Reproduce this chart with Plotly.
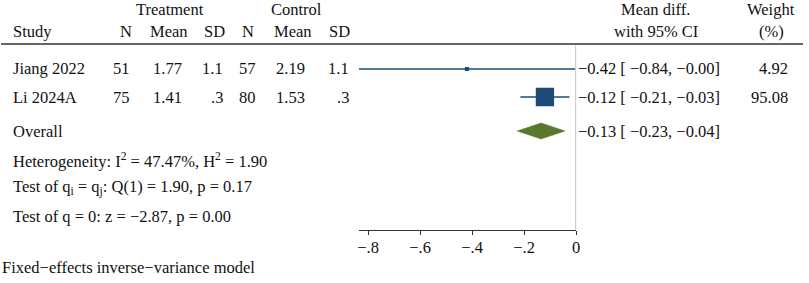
import plotly.graph_objects as go

# ---------------- data ----------------
studies = ["Jiang 2022", "Li 2024A"]
n_t = [51, 75]
mean_t = ["1.77", "1.41"]
sd_t = ["1.1", ".3"]
n_c = [57, 80]
mean_c = ["2.19", "1.53"]
sd_c = ["1.1", ".3"]
effect = [-0.42, -0.12]
ci_lo = [-0.836, -0.2145]
ci_hi = [-0.004, -0.0255]
weight = [4.92, 95.08]
overall = -0.1348
overall_lo = -0.2269
overall_hi = -0.0426
tick_vals = [-0.8, -0.6, -0.4, -0.2, 0]
tick_text = ["\u2212.8", "\u2212.6", "\u2212.4", "\u2212.2", "0"]
het_lines = [
    "Heterogeneity: I<sup>2</sup> = 47.47%, H<sup>2</sup> = 1.90",
    "Test of q<sub>i</sub> = q<sub>j</sub>: Q(1) = 1.90, p = 0.17",
    "Test of q = 0: z = \u22122.87, p = 0.00",
]
footnote = "Fixed\u2212effects inverse\u2212variance model"

# ---------------- layout constants ----------------
W, H = 809, 283
FONT = "Liberation Serif"
FS = 16.5
TXT = "#111111"
BLUE = "#1d4a78"
GREEN = "#58792b"
row_y = [69, 97]
overall_y = 131
het_y = [160, 188, 216]
foot_y = 267
axis_y = 230
head_line_y = 44
x_left, x_right = 360.0, 578.7
xmin, xmax = -0.836, 0.0


def py(p):
    return 1 - p / H


def fmt(v):
    s = f"{v:.2f}"
    if s.startswith("-"):
        s = "\u2212" + s[1:]
    return s


fig = go.Figure()

# CI lines
for i in range(len(studies)):
    fig.add_trace(go.Scatter(x=[ci_lo[i], ci_hi[i]], y=[row_y[i], row_y[i]],
                             mode="lines", line=dict(color=BLUE, width=1.3),
                             showlegend=False, hoverinfo="skip"))
# squares sized by weight
wmax = max(weight)
sizes = [18.3 * (w / wmax) ** 0.5 for w in weight]
fig.add_trace(go.Scatter(x=effect, y=row_y, mode="markers",
                         marker=dict(symbol="square", size=sizes, color=BLUE,
                                     opacity=1, line=dict(width=0)),
                         showlegend=False, hoverinfo="skip"))
# diamond
fig.add_trace(go.Scatter(x=[overall_lo, overall, overall_hi, overall, overall_lo],
                         y=[overall_y, overall_y - 8, overall_y, overall_y + 8, overall_y],
                         mode="lines", fill="toself", fillcolor=GREEN,
                         line=dict(color=GREEN, width=0.5),
                         showlegend=False, hoverinfo="skip"))

shapes = [
    dict(type="line", xref="paper", yref="paper", x0=0, x1=807 / W,
         y0=py(head_line_y), y1=py(head_line_y), line=dict(color="#333333", width=1.5)),
    dict(type="line", xref="x", yref="y", x0=0, x1=0, y0=head_line_y + 1, y1=axis_y,
         line=dict(color="#a0a0a0", width=1.3)),
]

ann = []


def add(text, x, y, anchor="left"):
    ann.append(dict(text=text, x=x / W, y=py(y), xref="paper", yref="paper",
                    xanchor=anchor, yanchor="middle", showarrow=False,
                    borderpad=0, borderwidth=0,
                    font=dict(family=FONT, size=FS, color=TXT)))


# headers
add("Treatment", 170.5, 9, "center")
add("Control", 297, 9, "center")
add("Study", 12, 31)
for txt, xc in zip(["N", "Mean", "SD", "N", "Mean", "SD"],
                   [125.5, 169, 215, 248.5, 294, 341]):
    add(txt, xc, 31, "center")
add("Mean diff.", 659, 9, "center")
add("with 95% CI", 659, 31, "center")
add("Weight", 775, 9, "center")
add("(%)", 775, 31, "center")

# rows
cols_r = [130, 182, 223, 257, 306, 350]
for i, s in enumerate(studies):
    add(s, 12, row_y[i])
    vals = [str(n_t[i]), mean_t[i], sd_t[i], str(n_c[i]), mean_c[i], sd_c[i]]
    for v, xr in zip(vals, cols_r):
        add(v, xr, row_y[i], "right")
    add(f"{fmt(effect[i])} [ {fmt(ci_lo[i])}, {fmt(ci_hi[i])}]", 581, row_y[i])
    add(f"{weight[i]:.2f}", 792, row_y[i], "right")

add("Overall", 12, overall_y)
add(f"{fmt(overall)} [ {fmt(overall_lo)}, {fmt(overall_hi)}]", 581, overall_y)
for t, yy in zip(het_lines, het_y):
    add(t, 12, yy)
add(footnote, 1, foot_y)

fig.update_layout(
    width=W, height=H, margin=dict(l=0, r=0, t=0, b=0),
    paper_bgcolor="white", plot_bgcolor="white",
    shapes=shapes, annotations=ann, showlegend=False,
    xaxis=dict(domain=[x_left / W, x_right / W], range=[xmin, xmax],
               showgrid=False, zeroline=False, showline=True, linecolor="#333333",
               linewidth=1.3, ticks="outside", ticklen=4, tickwidth=1.2,
               tickcolor="#333333", tickvals=tick_vals, ticktext=tick_text,
               ticklabelstandoff=-2,
               tickfont=dict(family=FONT, size=FS, color=TXT), fixedrange=True),
    yaxis=dict(domain=[(H - axis_y) / H, 1], range=[axis_y, 0], visible=False,
               showgrid=False, zeroline=False, fixedrange=True),
)

fig.write_html("out.html", config={"displayModeBar": False},
               post_script="document.body.style.margin='0';document.body.style.overflow='hidden';")
